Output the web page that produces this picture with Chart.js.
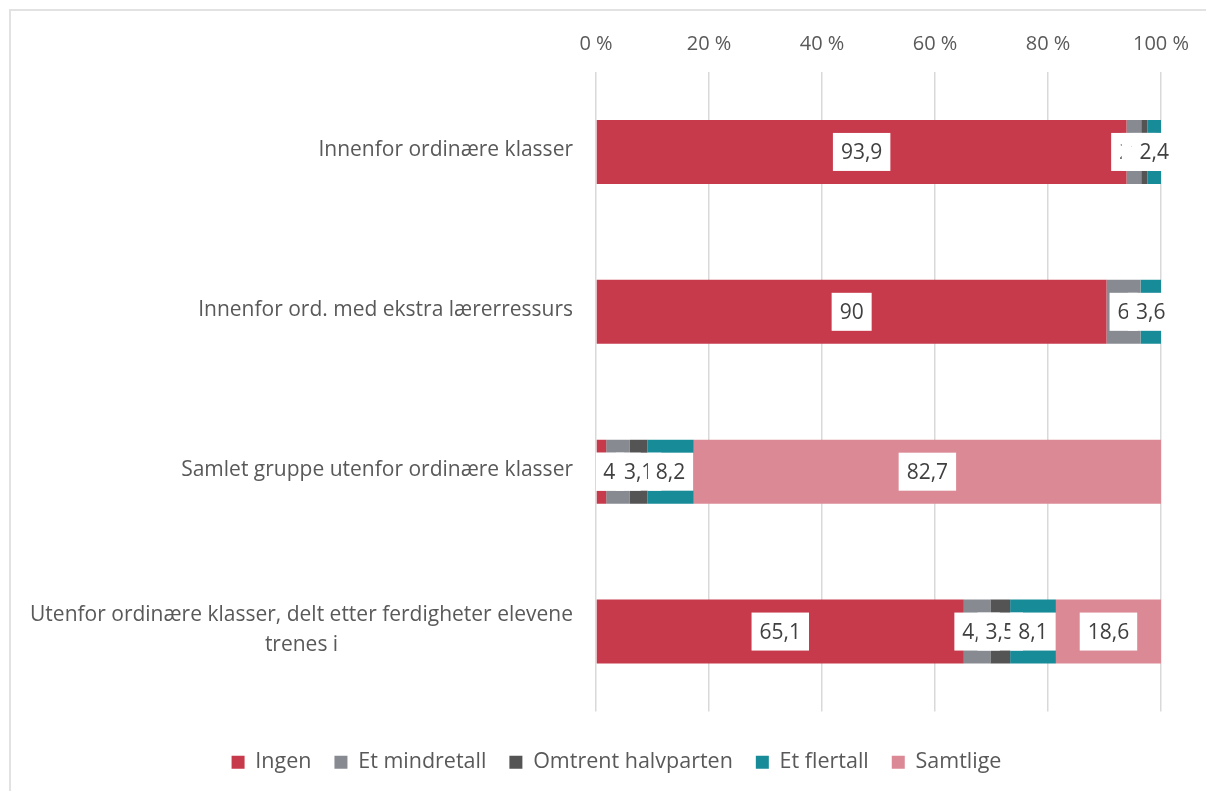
<!DOCTYPE html>
<html>
<head>
<meta charset="utf-8">
<script src="https://cdn.jsdelivr.net/npm/chart.js@4.4.1/dist/chart.umd.min.js"></script>
<style>
  html, body { margin: 0; padding: 0; background: #fff; }
  #wrap { position: relative; width: 1206px; height: 791px; overflow: hidden; }
  #frame {
    position: absolute; left: 9px; top: 9px; width: 1300px; height: 900px;
    border-top: 2px solid #e2e2e2; border-left: 2px solid #e2e2e2;
    pointer-events: none;
  }
</style>
</head>
<body>
<div id="wrap">
  <canvas id="chart" width="1206" height="791"></canvas>
  <div id="frame"></div>
</div>
<script>
const categories = [
  ["Innenfor ordinære klasser"],
  ["Innenfor ord. med ekstra lærerressurs"],
  ["Samlet gruppe utenfor ordinære klasser"],
  ["Utenfor ordinære klasser, delt etter ferdigheter elevene", "trenes i"],
];
const seriesNames = ["Ingen", "Et mindretall", "Omtrent halvparten", "Et flertall", "Samtlige"];
const ingen = [93.9, 90, 1.8, 65.1];
const mindretall = [2.6, 6, 4.2, 4.7];
const halvparten = [1.1, 0, 3.1, 3.5];
const flertall = [2.4, 3.6, 8.2, 8.1];
const samtlige = [0, 0, 82.7, 18.6];
const xTicks = [0, 20, 40, 60, 80, 100];

const palette = {
  red: "#c73a4b",
  gray: "#878b91",
  dark: "#545454",
  teal: "#188b99",
  pink: "#db8a95",
};
const textColor = "#595959";
const fontFamily = "'Open Sans', sans-serif";

const seriesData = [ingen, mindretall, halvparten, flertall, samtlige];
const seriesColors = [palette.red, palette.gray, palette.dark, palette.teal, palette.pink];

// 100 % stacked: each row is scaled by its own total, labels keep the raw value
const rowTotals = categories.map((_, j) => seriesData.reduce((s, arr) => s + arr[j], 0));

// white boxed value labels, later series drawn on top of earlier ones
const valueLabels = {
  id: "valueLabels",
  afterDatasetsDraw(chart) {
    const ctx = chart.ctx;
    const area = chart.chartArea;
    ctx.save();
    ctx.beginPath();
    ctx.rect(area.left, 0, chart.width - area.left, chart.height);
    ctx.clip();
    ctx.font = "21px " + fontFamily;
    ctx.textAlign = "center";
    ctx.textBaseline = "middle";
    chart.data.datasets.forEach((ds, i) => {
      const meta = chart.getDatasetMeta(i);
      meta.data.forEach((bar, j) => {
        const v = seriesData[i][j];
        if (!v) return;
        const text = String(v).replace(".", ",");
        const w = ctx.measureText(text).width + 16;
        const h = 38;
        const cx = (bar.x + bar.base) / 2;
        ctx.fillStyle = "#ffffff";
        ctx.fillRect(cx - w / 2, bar.y - h / 2, w, h);
        ctx.fillStyle = "#404040";
        ctx.fillText(text, cx, bar.y + 1);
      });
    });
    ctx.restore();
  },
};

// category labels: right aligned block, wrapped lines centred inside it
const categoryLabels = {
  id: "categoryLabels",
  afterDraw(chart) {
    const ctx = chart.ctx;
    const yScale = chart.scales.y;
    const right = chart.chartArea.left - 23;
    const lineH = 30;
    ctx.save();
    ctx.font = "21px " + fontFamily;
    ctx.fillStyle = textColor;
    ctx.textAlign = "center";
    ctx.textBaseline = "middle";
    categories.forEach((lines, i) => {
      const y = yScale.getPixelForValue(i);
      const widest = Math.max(...lines.map((l) => ctx.measureText(l).width));
      const cx = right - widest / 2;
      const y0 = y - ((lines.length - 1) * lineH) / 2 - 2;
      lines.forEach((l, k) => ctx.fillText(l, cx, y0 + k * lineH));
    });
    ctx.restore();
  },
};

new Chart(document.getElementById("chart"), {
  type: "bar",
  data: {
    labels: categories.map((c) => c.join(" ")),
    datasets: seriesNames.map((name, i) => ({
      label: name,
      data: seriesData[i].map((v, j) => (v / rowTotals[j]) * 100),
      backgroundColor: seriesColors[i],
      borderWidth: 0,
      barPercentage: 0.4,
      categoryPercentage: 1,
    })),
  },
  options: {
    responsive: false,
    animation: false,
    indexAxis: "y",
    layout: { padding: { top: 16, right: 45, bottom: 8, left: 72 } },
    plugins: {
      legend: {
        position: "bottom",
        title: { display: true, text: " ", padding: 2.5, font: { size: 10 } },
        labels: {
          boxWidth: 13,
          boxHeight: 13,
          padding: 23,
          color: textColor,
          font: { family: fontFamily, size: 21.5 },
        },
      },
      tooltip: { enabled: false },
    },
    scales: {
      x: {
        position: "top",
        stacked: true,
        min: 0,
        max: 100,
        afterBuildTicks: (scale) => {
          scale.ticks = xTicks.map((v) => ({ value: v }));
        },
        ticks: {
          padding: 16,
          color: textColor,
          font: { family: fontFamily, size: 20 },
          callback: (v) => v + " %",
        },
        grid: { color: "#d9d9d9", lineWidth: 1.5, drawTicks: false },
        border: { display: false },
      },
      y: {
        stacked: true,
        ticks: { display: false },
        grid: { display: false },
        border: { display: false },
        afterFit: (scale) => {
          scale.width = 596 - 72;
        },
      },
    },
  },
  plugins: [valueLabels, categoryLabels],
});
</script>
</body>
</html>
